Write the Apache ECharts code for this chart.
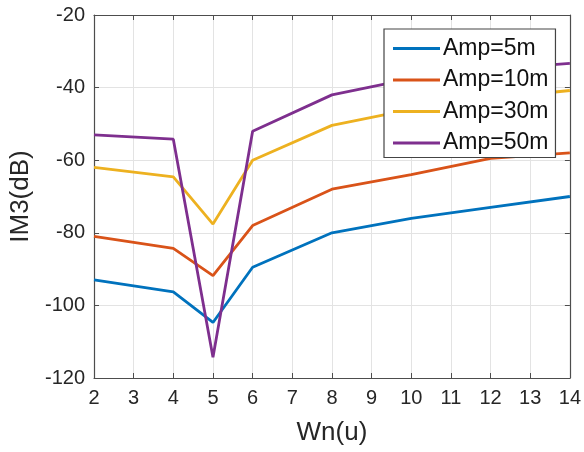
<!DOCTYPE html>
<html><head><meta charset="utf-8">
<script src="https://cdn.jsdelivr.net/npm/echarts@6/dist/echarts.min.js"></script>
<style>html,body{margin:0;padding:0;background:#fff}#c{width:584px;height:452px}</style>
</head><body><div id="c"></div>
<script>
const seriesNames = ['Amp=5m', 'Amp=10m', 'Amp=30m', 'Amp=50m'];
const xValues = [2, 4, 5, 6, 8, 10, 12, 14];
const amp5 = [-93, -96.3, -104.7, -89.5, -80, -76, -73, -70];
const amp10 = [-81, -84.3, -91.8, -78, -68, -64, -59.5, -58];
const amp30 = [-62, -64.6, -77.6, -60, -50.4, -46, -43, -40.8];
const amp50 = [-53, -54.2, -114.3, -52, -42, -37.5, -35, -33.3];
const colors = ['#0072BD', '#D95319', '#EDB120', '#7E2F8E'];
const xTicks = [2,3,4,5,6,7,8,9,10,11,12,13,14];
const yTicks = [-120,-100,-80,-60,-40,-20];

const allY = [amp5, amp10, amp30, amp50];
const font = 'Liberation Sans, Arial, sans-serif';
const axisCol = '#4d4d4d';
const chart = echarts.init(document.getElementById('c'), null, {renderer: 'canvas'});
const baseX = {
  type: 'value', min: xTicks[0], max: xTicks[xTicks.length-1], interval: 1,
  axisLine: {show: true, lineStyle: {color: axisCol, width: 1.2}},
  axisTick: {show: true, inside: true, length: 5, lineStyle: {color: axisCol}},
};
const baseY = {
  type: 'value', min: yTicks[0], max: yTicks[yTicks.length-1], interval: 20,
  axisLine: {show: true, lineStyle: {color: axisCol, width: 1.2}},
  axisTick: {show: true, inside: true, length: 5, lineStyle: {color: axisCol}},
};
chart.setOption({
  backgroundColor: '#fff',
  animation: false,
  grid: {left: 94, right: 14, top: 15, bottom: 74, containLabel: false},
  legend: {
    data: seriesNames, orient: 'vertical', left: 384, top: 29,
    backgroundColor: '#fff', borderColor: '#444', borderWidth: 1.2,
    padding: [8, 7, 3, 9], itemGap: 8.5, itemWidth: 47, itemHeight: 3,
    icon: 'rect', z: 10,
    textStyle: {fontFamily: font, fontSize: 23, color: '#111', padding: [0,0,0,-2]}
  },
  xAxis: [
    Object.assign({}, baseX, {
      position: 'bottom', name: 'Wn(u)', nameLocation: 'middle', nameGap: 42,
      nameTextStyle: {fontFamily: font, fontSize: 26, color: '#262626'},
      axisLabel: {fontFamily: font, fontSize: 20, color: '#262626', margin: 10},
      splitLine: {show: true, lineStyle: {color: '#e3e3e3', width: 1}}
    }),
    Object.assign({}, baseX, {
      position: 'top', axisLabel: {show: false}, splitLine: {show: false}
    })
  ],
  yAxis: [
    Object.assign({}, baseY, {
      position: 'left', name: 'IM3(dB)', nameLocation: 'middle', nameGap: 60,
      nameTextStyle: {fontFamily: font, fontSize: 26, color: '#262626'},
      axisLabel: {fontFamily: font, fontSize: 20, color: '#262626', margin: 9},
      splitLine: {show: true, lineStyle: {color: '#e3e3e3', width: 1}}
    }),
    Object.assign({}, baseY, {
      position: 'right', axisLabel: {show: false}, splitLine: {show: false}
    })
  ],
  series: seriesNames.map((n, i) => ({
    name: n, type: 'line', xAxisIndex: 0, yAxisIndex: 0,
    data: xValues.map((x, j) => [x, allY[i][j]]),
    showSymbol: false, symbol: 'none',
    lineStyle: {color: colors[i], width: 2.8},
    itemStyle: {color: colors[i]}
  }))
});
</script></body></html>
